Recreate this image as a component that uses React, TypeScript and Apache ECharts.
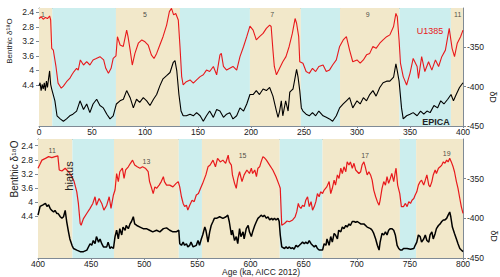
import React, { useEffect, useRef } from 'react';
import * as echarts from 'echarts';

// ---------- data ----------
const bandEdgesTop = [0, 12.5, 72.6, 133, 199, 247, 284, 340, 388.6, 400];
const bandEdgesBottom = [400, 432.4, 471.5, 532.5, 554.3, 627.5, 667.8, 740.6, 755.9, 800];

const misTop: [string, number][] = [['1', 3.8], ['5', 100], ['7', 220], ['9', 310], ['11', 395]];
const misTopY = [2.45, 2.46, 2.46, 2.46, 2.46];
const misBottom: [string, number][] = [['11', 413.4], ['13', 502], ['15', 592.5], ['17', 707.8], ['19', 784.6]];
const misBottomY = [2.55, 2.84, 2.67, 2.67, 2.61];

const leftTicks = [2.4, 2.8, 3.2, 3.6, 4, 4.4];
const rightTicks = [-450, -400, -350];

// U1385 benthic d18O, 0-400 ka
const u1385Top: [number, number][] = [
  [0, 2.57], [2, 2.52], [4, 2.59], [6, 2.54], [8, 2.57], [10, 2.5], [11, 2.61], [12, 3.39], [13.5, 3.44],
  [16, 3.89], [18, 4.35], [21, 4.49], [23, 4.43], [26, 4.31], [29, 4.22], [31, 4.12], [33, 4.03],
  [35.5, 3.94], [37, 3.99], [39, 3.71], [42, 3.85], [45, 3.76], [48, 3.85], [51, 3.71], [54, 3.67],
  [57.5, 3.62], [61, 3.71], [63, 3.94], [65.5, 4.08], [68, 3.94], [70, 3.67], [72.6, 3.6], [74, 3.07],
  [76.5, 3.3], [79.5, 3.34], [82.7, 2.89], [84, 3.07], [86, 3.44], [88, 3.85], [90.5, 3.53], [93.7, 3.25],
  [97, 3.16], [100, 3.21], [103, 3.3], [106, 3.57], [108.5, 3.67], [111, 3.53], [114, 3.3], [117, 3.07],
  [120.4, 2.75], [123, 2.38], [125, 2.29], [127, 2.47], [129, 2.43], [131.4, 2.61], [133, 3.34],
  [134.6, 4.17], [136, 4.4], [139, 4.31], [142.5, 4.26], [145.6, 4.35], [148.7, 4.26], [152, 4.17],
  [155, 4.12], [158, 3.99], [161, 4.03], [164.5, 3.89], [167.6, 4.12], [170.7, 3.57], [172, 3.53],
  [174, 3.89], [177, 3.99], [180, 3.94], [183, 3.89], [186.5, 3.99], [189.6, 3.62], [193, 3.34],
  [196, 3.07], [199, 2.78], [202, 2.89], [205, 3.16], [208, 3.07], [211.4, 2.98], [214.5, 2.84],
  [217.6, 2.75], [219, 2.79], [220.7, 3.44], [222, 3.89], [224, 4.12], [227, 3.94], [230, 3.76],
  [233, 3.62], [236, 3.34], [239, 2.98], [241.6, 2.57], [243, 2.7], [245, 3.07], [246, 3.76], [249, 3.8],
  [252, 4.03], [255, 4.08], [258, 3.94], [261, 4.03], [264, 3.89], [268, 3.85], [271, 4.03], [274, 3.99],
  [277, 3.85], [280.5, 3.71], [283.6, 3.34], [287, 3.16], [290, 3.07], [293, 3.44], [296, 3.76], [300, 3.71],
  [303, 3.8], [306, 3.71], [309, 3.57], [312, 3.53], [315, 3.34], [318, 3.39], [321.5, 3.25], [324.6, 3.16],
  [328, 3.07], [331, 3.02], [334.5, 2.79], [336.7, 2.43], [338, 2.52], [339.7, 3.16], [341, 3.8],
  [343.6, 4.17], [346.8, 4.4], [350, 4.08], [353, 3.67], [356.7, 3.89], [358, 4.22], [361, 3.62],
  [364, 4.03], [367.5, 3.76], [370.6, 3.99], [374, 3.71], [377, 3.89], [380, 3.62], [383.4, 3.44],
  [387, 2.84], [389.7, 3.39], [392, 3.62], [394.6, 3.25], [397.7, 3.07], [400, 2.89],
];

// EPICA dD, 0-400 ka
const epicaTop: [number, number][] = [
  [0, -399], [1, -395], [2, -405], [3, -397], [4, -403], [5, -395], [6, -405], [7, -393], [8, -401],
  [9, -390], [10, -380], [11, -397], [12, -403], [15, -418], [17, -437], [20, -441], [23, -444], [26, -441],
  [29, -437], [32, -435], [35.5, -431], [38.7, -418], [42, -429], [45, -422], [48, -433], [51, -422],
  [54.4, -416], [57.5, -424], [60.7, -427], [64, -435], [67, -441], [70, -437], [73, -422], [76.4, -418],
  [79.6, -416], [82.7, -405], [86, -414], [89, -427], [92, -416], [95, -420], [98.4, -414], [101.6, -418],
  [104.7, -424], [108, -416], [111, -410], [114, -399], [117, -390], [120.4, -386], [123.6, -382],
  [126.7, -369], [128.3, -367], [130, -380], [132, -410], [134, -431], [136, -437], [139, -437],
  [142.5, -435], [145.6, -437], [148.7, -433], [152, -437], [155, -444], [158, -437], [161, -431],
  [164.5, -439], [167.6, -429], [170.7, -431], [174, -439], [177, -435], [180, -433], [183, -441],
  [186.5, -437], [189.6, -427], [193, -431], [196, -422], [199, -410], [202, -410], [205, -405],
  [208, -410], [211.4, -403], [214.5, -405], [217.6, -401], [220.7, -412], [224, -431], [225.5, -439],
  [227, -431], [228.6, -418], [230, -437], [232.7, -418], [235, -431], [236.6, -407], [238, -405],
  [239.6, -403], [241, -393], [243, -378], [244.4, -388], [246, -405], [247.5, -427], [249, -431],
  [252, -435], [255, -437], [258, -433], [261, -437], [264, -431], [268, -437], [271, -439], [274, -441],
  [277, -444], [280.5, -437], [283.6, -427], [287, -422], [290, -418], [293, -414], [296, -427], [300, -418],
  [303, -422], [306, -414], [309, -418], [312, -410], [315, -405], [318, -412], [321.5, -401], [324.6, -395],
  [328, -393], [331, -393], [334.5, -388], [336.7, -371], [338, -380], [339.7, -393], [342, -427],
  [343.6, -441], [346.8, -437], [350, -435], [353, -433], [356.7, -437], [360, -431], [363, -435],
  [366, -431], [369, -433], [372.6, -424], [376, -427], [379, -418], [382, -422], [385.6, -416],
  [388.7, -410], [391, -418], [393.6, -410], [396.7, -401], [400, -395],
];

// U1385 benthic d18O, 400-800 ka
const u1385Bottom: [number, number][] = [
  [400, 3.04], [401.5, 2.95], [403.7, 2.81], [407, 2.76], [410, 2.71], [413, 2.74], [416, 2.71], [418.7, 2.69],
  [420, 3.09], [422.5, 3.12], [425.6, 3.04], [428.7, 3.14], [432, 3.28], [434, 3.42], [436.5, 3.71], [438, 4.04],
  [439.7, 4.61], [440.6, 4.66], [442.8, 4.47], [446, 4.32], [449, 4.18], [451.6, 4.04], [453.7, 3.85],
  [455, 4.09], [457.5, 3.9], [460, 4.04], [462, 4.23], [464.7, 4.09], [467, 3.85], [468.7, 4.18], [471, 3.8],
  [472.5, 3.66], [474, 3.19], [475.6, 3.42], [477, 3.14], [479.4, 3.04], [481, 3.33], [482.5, 3.09],
  [485, 3.0], [487, 2.9], [489, 2.81], [491, 2.95], [493.4, 3.0], [496, 3.04], [498.4, 3.0], [501, 3.04],
  [503.7, 3.14], [505, 3.42], [507, 3.61], [508.4, 3.76], [510, 3.57], [511.6, 3.61], [514, 3.52],
  [516, 3.42], [518, 3.28], [519, 3.42], [521, 3.52], [524, 3.52], [527, 3.57], [530, 3.47], [532, 3.42],
  [533.4, 3.57], [535, 3.85], [536.6, 4.04], [538, 4.13], [539.7, 4.09], [541, 4.23], [542.8, 4.09],
  [545, 3.95], [547, 3.99], [549, 3.8], [551, 3.76], [553, 3.61], [555, 3.47], [558, 3.23], [560, 3.0],
  [562, 2.95], [564.7, 2.81], [567, 3.0], [569, 2.76], [571.6, 2.86], [574, 2.81], [576.6, 2.9], [579, 2.67],
  [580, 2.86], [582, 2.95], [583, 3.23], [585, 3.47], [586.6, 3.61], [588, 3.33], [589.7, 3.14], [592, 3.42],
  [594, 3.23], [596.6, 3.09], [599, 3.19], [600.8, 3.04], [602, 3.19], [604, 3.09], [605.6, 3.28], [607, 3.04],
  [608.6, 3.0], [610, 2.86], [611.7, 2.71], [613, 2.74], [615, 2.81], [618, 2.95], [621, 3.09], [624, 3.28],
  [627, 3.52], [628, 3.61], [629.4, 4.66], [632, 4.61], [634.4, 4.54], [636.6, 4.56], [639.7, 4.51],
  [642, 4.42], [643.5, 4.28], [645, 4.04], [646, 4.13], [647.5, 4.18], [649, 4.09], [650.6, 4.13],
  [652, 3.95], [653.7, 3.85], [655.3, 4.13], [657, 3.99], [658.4, 4.23], [660, 4.13], [661.5, 3.99],
  [663, 3.76], [664.6, 3.85], [666, 3.71], [667.8, 3.76], [669.3, 3.66], [671.8, 3.57], [674, 3.42],
  [675.5, 3.76], [677, 3.61], [678.7, 3.38], [680, 3.52], [681.8, 3.23], [683.3, 3.33], [685, 3.04],
  [686.4, 3.19], [688, 3.0], [689.7, 3.14], [691, 2.86], [692.7, 2.95], [694, 2.86], [695.8, 3.04],
  [697.4, 2.9], [699, 3.09], [700.5, 3.14], [702, 3.19], [703.7, 3.14], [705, 2.95], [706.7, 2.86],
  [708, 3.0], [709.8, 3.23], [711.4, 3.14], [713, 3.23], [714.5, 3.38], [716, 3.66], [717.8, 3.85],
  [719.4, 3.99], [721, 4.09], [722, 3.95], [723.8, 3.61], [725.4, 3.42], [727, 3.52], [728.5, 3.28],
  [730, 3.47], [731.6, 3.33], [733, 3.19], [734.8, 3.42], [736.3, 3.14], [737, 3.04], [738.5, 3.52],
  [740.5, 3.76], [742, 4.13], [744, 4.13], [745.8, 4.04], [747.4, 4.13], [749, 3.99], [750.6, 4.04],
  [752, 3.95], [753.7, 3.9], [755, 3.8], [756.5, 3.71], [758, 3.52], [759.7, 3.42], [761, 3.38],
  [763, 3.52], [764.5, 3.38], [766, 3.23], [767.8, 3.52], [769, 3.57], [770.7, 3.42], [772, 3.23],
  [773.8, 3.09], [775, 3.19], [776.9, 3.04], [778.5, 3.0], [780, 2.95], [781.5, 2.86], [783, 2.9],
  [784.6, 2.81], [786, 2.86], [787.5, 2.76], [789, 2.86], [790.7, 3.0], [792, 3.14], [793.8, 3.42],
  [795.3, 3.61], [797, 3.9], [798.4, 4.13], [800, 4.32],
];

// EPICA dD, 400-800 ka
const epicaBottom: [number, number][] = [
  [400, -396], [402, -385], [404.7, -383], [407, -381], [408.4, -385], [410, -383], [411.6, -388], [413, -390],
  [414.7, -392], [416, -390], [417.8, -394], [419, -394], [421, -398], [422.5, -400], [424, -398], [425.6, -390],
  [427, -404], [428.7, -417], [430, -426], [432, -434], [433.4, -438], [436.5, -440], [439.7, -442],
  [442.8, -442], [446, -440], [449, -432], [450.6, -434], [452, -428], [453.7, -432], [455, -423], [457, -430],
  [458.4, -426], [460, -432], [461.6, -436], [464.7, -436], [466, -430], [467.8, -438], [469, -436], [471, -438],
  [472.5, -423], [474, -415], [475.6, -426], [477, -413], [478.8, -421], [480, -411], [482, -415], [483, -409],
  [485, -413], [486.6, -407], [488, -404], [489.7, -398], [491, -407], [493, -409], [496, -411], [499, -413],
  [502, -413], [505, -415], [508, -417], [511.6, -415], [514.7, -417], [518, -413], [521, -412], [524, -415],
  [527, -417], [530, -417], [532.5, -415], [533.4, -432], [535, -434], [536.6, -430], [538, -434],
  [539.7, -432], [541, -436], [542.8, -434], [544, -430], [546, -436], [549, -434], [550.6, -428], [552, -434],
  [553.7, -426], [555, -421], [557, -411], [558, -415], [560, -430], [561.6, -417], [563, -409], [564.7, -404],
  [566, -400], [568, -400], [571, -398], [574, -400], [577, -398], [578.6, -396], [580, -404], [582, -421],
  [583, -415], [585, -428], [586.6, -423], [588, -432], [589.7, -413], [591, -423], [593, -417], [594, -426],
  [596, -413], [597.8, -409], [599, -417], [600.8, -423], [602, -417], [604, -409], [605.6, -404], [607, -400],
  [608.6, -398], [610, -396], [611.7, -398], [613, -396], [615, -400], [616.5, -398], [618, -402],
  [619.8, -400], [621, -402], [622.6, -400], [624, -402], [625.9, -400], [627, -404], [628, -421],
  [629.4, -436], [632, -438], [633.5, -436], [635, -438], [636.6, -436], [638, -438], [639.7, -437],
  [641, -439], [642.8, -434], [644.4, -436], [646, -434], [647.5, -432], [649, -430], [650.6, -432],
  [652, -430], [653.7, -432], [655.3, -428], [657, -432], [658.4, -434], [660, -436], [661.5, -434],
  [663, -438], [664.6, -440], [666, -440], [667.8, -440], [669.3, -432], [671, -434], [672, -426], [674, -434],
  [675.5, -423], [677, -430], [678.7, -419], [680, -421], [681.8, -426], [683, -415], [685, -417],
  [686.4, -411], [688, -413], [689.7, -409], [691, -411], [692.7, -407], [694, -409], [695.8, -404],
  [697.4, -404], [699, -405], [700.5, -404], [703.7, -407], [706.7, -407], [709.8, -411], [713, -413],
  [714.5, -415], [716, -419], [717.8, -426], [719.4, -434], [721, -440], [722, -430], [723.8, -419],
  [725.4, -421], [727, -417], [728.5, -421], [730, -415], [731.6, -413], [733, -413], [734.8, -415],
  [736.3, -421], [738, -434], [739.5, -438], [741, -440], [742.7, -440], [744, -438], [747.4, -438],
  [750.6, -439], [753.7, -438], [755, -434], [756.5, -430], [758, -421], [759.7, -423], [761, -430],
  [763, -426], [764.5, -421], [766, -428], [767.8, -430], [769, -421], [770.7, -417], [772, -426],
  [773.8, -419], [775, -413], [776.9, -409], [778.5, -407], [780, -404], [781.5, -402], [783, -402],
  [784.6, -400], [786, -396], [787.5, -392], [788.5, -398], [790, -411], [792, -419], [793.8, -426],
  [795.3, -432], [797, -438], [798.4, -440], [800, -442],
];

// ---------- styling ----------
const TAN = '#F2E8CA';
const CYAN = '#CCEEEE';
const RED = '#E8191C';
const FRAME = '#7f8a95';
const FONT = 'Liberation Sans, Arial, sans-serif';

function bands(edges: number[]) {
  const out: any[] = [];
  for (let i = 0; i < edges.length - 1; i++) {
    out.push([
      { xAxis: edges[i], itemStyle: { color: i % 2 === 0 ? TAN : CYAN } },
      { xAxis: edges[i + 1] },
    ]);
  }
  return out;
}

function xAxes(gi: number, min: number, max: number) {
  return [
    {
      gridIndex: gi, type: 'value', min, max, interval: 50, position: 'bottom',
      axisLine: { show: true, onZero: false, lineStyle: { color: FRAME, width: 1 } },
      axisTick: { show: true, length: 2, lineStyle: { color: FRAME } },
      axisLabel: { fontSize: 8.5, color: '#222', margin: 1, fontFamily: FONT },
      splitLine: { show: false },
    },
    {
      gridIndex: gi, type: 'value', min, max, interval: 50, position: 'top',
      axisLine: { show: true, onZero: false, lineStyle: { color: FRAME, width: 1 } },
      axisTick: { show: true, inside: true, length: 2, lineStyle: { color: FRAME } },
      axisLabel: { show: false },
      splitLine: { show: false },
    },
  ];
}

function yAxes(gi: number, lmin: number, lmax: number) {
  return [
    {
      gridIndex: gi, type: 'value', inverse: true, min: lmin, max: lmax, position: 'left',
      axisLine: { show: true, onZero: false, lineStyle: { color: FRAME } },
      axisTick: { show: true, length: 3, customValues: leftTicks, lineStyle: { color: FRAME } },
      axisLabel: { customValues: leftTicks, fontSize: 8.5, color: '#222', margin: 5, fontFamily: FONT },
      splitLine: { show: false },
    },
    {
      gridIndex: gi, type: 'value', min: -450, max: -300, position: 'right',
      axisLine: { show: true, onZero: false, lineStyle: { color: FRAME } },
      axisTick: { show: true, length: 3, customValues: rightTicks, lineStyle: { color: FRAME } },
      axisLabel: {
        customValues: rightTicks, fontSize: 8.5, color: '#222', margin: 4, fontFamily: FONT,
        alignMinLabel: 'bottom',
      },
      splitLine: { show: false },
    },
  ];
}

function labelSeries(xi: number, yi: number, items: [string, number][], ys: number[]) {
  return {
    type: 'scatter', xAxisIndex: xi, yAxisIndex: yi, symbolSize: 0, silent: true,
    data: items.map((it, i) => ({ value: [it[1], ys[i]], name: it[0] })),
    label: {
      show: true, position: 'inside', formatter: (p: any) => p.name,
      fontSize: 7, color: '#222', fontFamily: FONT,
    },
    z: 5,
  };
}

function txt(x: number, y: number, text: string, fontSize: number, extra: any = {}, rotation = 0) {
  return {
    type: 'text', x, y, rotation, z: 100, zlevel: 0,
    style: {
      text, fontSize, fill: '#222', align: 'center', verticalAlign: 'middle', fontFamily: FONT, ...extra,
    },
  };
}

export default function App() {
  const ref = useRef<HTMLDivElement>(null);
  useEffect(() => {
    if (!ref.current) return;
    const chart = echarts.init(ref.current, undefined, { renderer: 'svg' });
    const option: any = {
      animation: false,
      backgroundColor: '#ffffff',
      textStyle: { fontFamily: FONT },
      grid: [
        { left: 39, right: 37, top: 8, height: 118 },
        { left: 38, right: 37, top: 139, height: 119 },
      ],
      xAxis: [...xAxes(0, 0, 400), ...xAxes(1, 400, 800)],
      yAxis: [...yAxes(0, 2.28, 5.53), ...yAxes(1, 2.21, 5.59)],
      series: [
        {
          type: 'line', xAxisIndex: 0, yAxisIndex: 1, data: epicaTop, showSymbol: false, symbol: 'none',
          lineStyle: { color: '#000', width: 1.1 }, silent: true,
          markArea: { silent: true, data: bands(bandEdgesTop) },
        },
        {
          type: 'line', xAxisIndex: 0, yAxisIndex: 0, data: u1385Top, showSymbol: false, symbol: 'none',
          lineStyle: { color: RED, width: 1.1 }, silent: true,
        },
        {
          type: 'line', xAxisIndex: 2, yAxisIndex: 3, data: epicaBottom, showSymbol: false, symbol: 'none',
          lineStyle: { color: '#000', width: 1.5 }, silent: true,
          markArea: { silent: true, data: bands(bandEdgesBottom) },
        },
        {
          type: 'line', xAxisIndex: 2, yAxisIndex: 2, data: u1385Bottom, showSymbol: false, symbol: 'none',
          lineStyle: { color: RED, width: 1.2 }, silent: true,
        },
        labelSeries(0, 0, misTop, misTopY),
        labelSeries(2, 2, misBottom, misBottomY),
      ],
      graphic: {
        elements: [
          txt(9, 41, 'Benthic δ¹⁸O', 8, {}, Math.PI / 2),
          txt(14, 169, 'Benthic δ¹⁸O', 10, {}, Math.PI / 2),
          txt(493, 97, 'δD', 9, {}, -Math.PI / 2),
          txt(494, 236, 'δD', 9, {}, -Math.PI / 2),
          txt(430, 31, 'U1385', 9, { fill: RED }),
          txt(436, 122, 'EPICA', 9, { fontWeight: 'bold' }),
          txt(69, 176, 'hiatus', 11, {}, Math.PI / 2),
          txt(261, 272, 'Age (ka, AICC 2012)', 8.5),
        ],
      },
    };
    chart.setOption(option);
    return () => chart.dispose();
  }, []);
  return <div ref={ref} style={{ width: 500, height: 277, position: 'absolute', left: 0, top: 0 }} />;
}
